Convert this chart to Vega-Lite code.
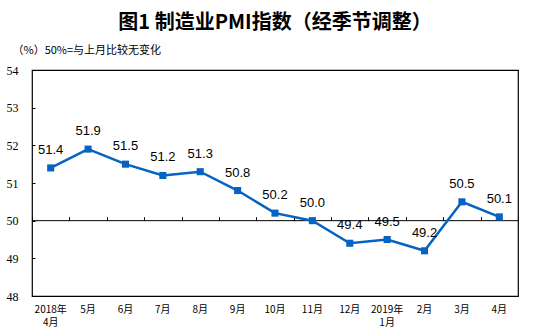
{
  "$schema": "https://vega.github.io/schema/vega-lite/v6.json",
  "autosize": "none",
  "width": 486,
  "height": 226,
  "padding": {"left": 32, "top": 70, "right": 28, "bottom": 40},
  "background": "white",
  "title": {
    "text": "图1 制造业PMI指数（经季节调整）",
    "font": "Noto Sans CJK SC",
    "fontSize": 20,
    "fontWeight": "bold",
    "color": "black",
    "anchor": "middle",
    "baseline": "bottom",
    "offset": 12,
    "dy": 21
  },
  "config": {
    "view": {"stroke": "black", "strokeWidth": 1.2},
    "axis": {"grid": false}
  },
  "data": {
    "values": [
      {"m": "2018年 4月", "v": 51.4},
      {"m": "5月", "v": 51.9},
      {"m": "6月", "v": 51.5},
      {"m": "7月", "v": 51.2},
      {"m": "8月", "v": 51.3},
      {"m": "9月", "v": 50.8},
      {"m": "10月", "v": 50.2},
      {"m": "11月", "v": 50.0},
      {"m": "12月", "v": 49.4},
      {"m": "2019年 1月", "v": 49.5},
      {"m": "2月", "v": 49.2},
      {"m": "3月", "v": 50.5},
      {"m": "4月", "v": 50.1}
    ]
  },
  "layer": [
    {
      "data": {"values": [{"y": 50}]},
      "mark": {"type": "rule", "color": "black", "strokeWidth": 1},
      "encoding": {"y": {"field": "y", "type": "quantitative", "scale": {"domain": [48, 54], "nice": false, "zero": false}, "axis": null}}
    },
    {
      "mark": {"type": "line", "color": "#0563C1", "strokeWidth": 2.5},
      "encoding": {
        "x": {
          "field": "m", "type": "nominal", "sort": null,
          "scale": {"type": "band", "paddingInner": 0, "paddingOuter": 0},
          "axis": {
            "title": null, "domain": false, "ticks": false,
            "labelAngle": 0,
            "labelExpr": "split(datum.label, ' ')",
            "labelFont": "Noto Sans CJK SC", "labelFontSize": 10,
            "labelColor": "black", "labelPadding": 8, "labelLineHeight": 13.5
          }
        },
        "y": {
          "field": "v", "type": "quantitative",
          "scale": {"domain": [48, 54], "nice": false, "zero": false},
          "axis": {
            "orient": "left",
            "values": [48, 49, 50, 51, 52, 53, 54],
            "labelOverlap": false,
            "domain": false, "ticks": false,
            "labelFont": "Liberation Serif", "labelFontSize": 12,
            "labelColor": "black", "labelPadding": 14,
            "title": "（%）50%=与上月比较无变化",
            "titleAngle": 0, "titleAlign": "left", "titleBaseline": "middle",
            "titleX": -20, "titleY": -20,
            "titleFont": "Noto Sans CJK SC", "titleFontSize": 11,
            "titleFontWeight": "normal", "titleColor": "black"
          }
        }
      }
    },
    {
      "mark": {"type": "point", "shape": "square", "filled": true, "opacity": 1, "color": "#0563C1", "size": 50},
      "encoding": {
        "x": {"field": "m", "type": "nominal", "sort": null, "axis": null},
        "y": {
          "field": "v", "type": "quantitative",
          "axis": {
            "orient": "right", "offset": -486, "values": [49, 50, 51, 52, 53],
            "labels": false, "domain": false, "title": null,
            "tickSize": 3, "tickColor": "black", "tickWidth": 1
          }
        }
      }
    },
    {
      "mark": {"type": "text", "font": "Liberation Sans", "fontSize": 13, "color": "black", "dy": -18, "baseline": "middle"},
      "encoding": {
        "x": {
          "field": "m", "type": "nominal", "sort": null,
          "axis": {
            "orient": "top", "offset": -150.67, "labels": false, "title": null,
            "domain": false, "tickBand": "extent", "tickSize": 4, "tickColor": "black", "tickWidth": 1
          }
        },
        "y": {"field": "v", "type": "quantitative", "axis": null},
        "text": {"field": "v", "type": "quantitative", "format": ".1f"}
      }
    }
  ],
  "resolve": {"axis": {"x": "independent", "y": "independent"}}
}
